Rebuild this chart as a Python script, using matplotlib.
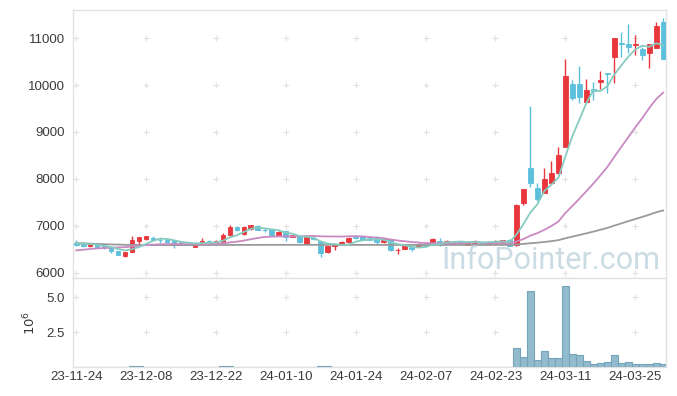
import matplotlib
matplotlib.use("Agg")
import matplotlib.pyplot as plt
import numpy as np
import pandas as pd

dates = ["23-11-24", "23-11-27", "23-11-28", "23-11-29", "23-11-30",
         "23-12-01", "23-12-04", "23-12-05", "23-12-06", "23-12-07", "23-12-08",
         "23-12-11", "23-12-12", "23-12-13", "23-12-14", "23-12-15",
         "23-12-18", "23-12-19", "23-12-20", "23-12-21", "23-12-22",
         "23-12-26", "23-12-27", "23-12-28",
         "24-01-02", "24-01-03", "24-01-04", "24-01-05",
         "24-01-08", "24-01-09", "24-01-10", "24-01-11", "24-01-12",
         "24-01-15", "24-01-16", "24-01-17", "24-01-18", "24-01-19",
         "24-01-22", "24-01-23", "24-01-24", "24-01-25", "24-01-26",
         "24-01-29", "24-01-30", "24-01-31", "24-02-01", "24-02-02",
         "24-02-05", "24-02-06", "24-02-07", "24-02-08",
         "24-02-13", "24-02-14", "24-02-15", "24-02-16",
         "24-02-19", "24-02-20", "24-02-21", "24-02-22", "24-02-23",
         "24-02-26", "24-02-27", "24-02-28", "24-02-29",
         "24-03-04", "24-03-05", "24-03-06", "24-03-07", "24-03-08",
         "24-03-11", "24-03-12", "24-03-13", "24-03-14", "24-03-15",
         "24-03-18", "24-03-19", "24-03-20", "24-03-21", "24-03-22",
         "24-03-25", "24-03-26", "24-03-27", "24-03-28", "24-03-29"]

opens = [6635, 6615, 6560, 6600, 6585, 6540, 6465, 6360, 6450, 6680,
         6710, 6745, 6705, 6700, 6690, 6645, 6620, 6555, 6605, 6675,
         6645, 6660, 6800, 6980, 6815, 6920, 7000, 6915, 6905, 6800,
         6885, 6760, 6785, 6610, 6745, 6675, 6435, 6570, 6590, 6645,
         6755, 6780, 6730, 6760, 6650, 6710, 6475, 6505, 6545, 6550,
         6620, 6630, 6665, 6615, 6640, 6660, 6595, 6630, 6660, 6615,
         6630, 6660, 6700, 6580, 7495, 8230, 7800, 7705, 7905, 8115,
         8685, 10020, 10020, 9645, 9905, 10070, 10260, 10590, 10900, 10870,
         10845, 10765, 10675, 10795, 11340]

closes = [6595, 6575, 6615, 6555, 6520, 6455, 6380, 6445, 6700, 6750,
          6785, 6700, 6690, 6660, 6610, 6620, 6610, 6625, 6675, 6625,
          6680, 6800, 6980, 6900, 6980, 7015, 6910, 6905, 6800, 6870,
          6765, 6800, 6645, 6750, 6720, 6410, 6560, 6605, 6660, 6745,
          6730, 6695, 6700, 6660, 6710, 6480, 6490, 6575, 6500, 6620,
          6560, 6715, 6655, 6680, 6650, 6615, 6650, 6675, 6630, 6660,
          6675, 6695, 6575, 7445, 7780, 7920, 7570, 7995, 8115, 8510,
          10190, 9730, 9750, 9890, 9880, 10105, 10240, 10995, 10865, 10815,
          10870, 10650, 10870, 11255, 10560]

highs = [6700, 6660, 6640, 6610, 6595, 6545, 6470, 6450, 6790, 6755,
         6790, 6785, 6745, 6710, 6695, 6660, 6640, 6640, 6745, 6690,
         6700, 6845, 7010, 6995, 6990, 7025, 7010, 6955, 6920, 6880,
         6895, 6810, 6800, 6760, 6770, 6680, 6575, 6620, 6670, 6750,
         6790, 6790, 6745, 6770, 6720, 6720, 6530, 6580, 6560, 6630,
         6630, 6730, 6740, 6690, 6670, 6670, 6665, 6690, 6670, 6680,
         6690, 6705, 6710, 7460, 7790, 9550, 7905, 8225, 8385, 8685,
         10545, 10105, 10400, 10120, 10070, 10305, 10265, 11000, 11135, 11310,
         11065, 10815, 10880, 11345, 11420]

lows = [6560, 6550, 6550, 6545, 6510, 6420, 6370, 6325, 6440, 6590,
        6705, 6695, 6625, 6650, 6530, 6600, 6590, 6540, 6600, 6615,
        6635, 6655, 6790, 6890, 6810, 6910, 6900, 6860, 6790, 6790,
        6675, 6750, 6630, 6600, 6700, 6340, 6420, 6480, 6580, 6640,
        6720, 6690, 6690, 6600, 6640, 6470, 6400, 6495, 6460, 6540,
        6550, 6620, 6560, 6600, 6620, 6600, 6585, 6620, 6620, 6600,
        6620, 6650, 6560, 6570, 7450, 7830, 7530, 7690, 7890, 8100,
        8680, 9680, 9610, 9640, 9690, 9925, 9835, 10035, 10590, 10685,
        10635, 10530, 10355, 10790, 10550]

volumes = [21000, 18000, 24000, 16000, 19000, 27000, 31000, 26000, 95000, 42000,
           28000, 20000, 15000, 17000, 22000, 14000, 13000, 19000, 25000, 16000,
           18000, 38000, 85000, 30000, 33000, 29000, 22000, 15000, 20000, 17000,
           24000, 14000, 21000, 19000, 16000, 90000, 36000, 20000, 18000, 23000,
           15000, 17000, 13000, 19000, 16000, 24000, 22000, 18000, 20000, 17000,
           15000, 21000, 18000, 14000, 12000, 16000, 13000, 15000, 12000, 14000,
           16000, 22000, 35000,
           1350000, 700000, 5460000, 480000, 1130000, 630000, 630000, 5820000,
           910000, 840000, 410000, 190000, 260000, 340000, 840000, 260000,
           340000, 190000, 190000, 190000, 260000, 190000]

# closes of the 19 sessions before the first shown day (estimated from the MA lines)
prior_closes = [6300, 6280, 6320, 6350, 6310, 6290, 6330, 6380, 6450, 6500,
                6520, 6560, 6550, 6590, 6620, 6640, 6610, 6650, 6630]

# long moving average line
ma_long = [6630, 6624, 6618, 6612, 6606, 6601, 6597, 6593, 6590, 6589,
           6588, 6588, 6587, 6587, 6587, 6587, 6587, 6587, 6588, 6588,
           6588, 6589, 6589, 6590, 6590, 6591, 6591, 6592, 6592, 6592,
           6592, 6592, 6592, 6592, 6592, 6591, 6591, 6591, 6591, 6591,
           6591, 6591, 6591, 6590, 6590, 6590, 6590, 6590, 6590, 6590,
           6590, 6590, 6590, 6590, 6590, 6590, 6590, 6590, 6590, 6590,
           6590, 6590, 6590, 6599, 6612, 6627, 6638, 6654, 6671, 6692,
           6732, 6767, 6802, 6838, 6874, 6913, 6953, 7002, 7049, 7096,
           7143, 7188, 7235, 7287, 7325]

tick_idx = [0, 10, 20, 30, 40, 50, 60, 70, 80]
price_ticks = [6000, 7000, 8000, 9000, 10000, 11000]
vol_ticks = [2.5e6, 5.0e6]
vol_tick_labels = ["2.5", "5.0"]

RED = "#e8363c"
BLUE = "#5cbfdc"
TEAL = "#86cbbf"
PINK = "#c98ac3"
GRAY = "#9a9a9a"
SPINE = "#e2e2e2"
TXT = "#3a3a3a"

plt.rcParams['font.family'] = ['Liberation Sans', 'DejaVu Sans']

W, H = 677, 396
fig = plt.figure(figsize=(W / 100, H / 100), dpi=100)
L, R = 73, 666
ax = fig.add_axes([L / W, 1 - 278 / H, (R - L) / W, (278 - 10) / H])
axv = fig.add_axes([L / W, 1 - 367 / H, (R - L) / W, (367 - 278) / H], sharex=ax)

o = np.array(opens, float)
c = np.array(closes, float)
h = np.array(highs, float)
lo = np.array(lows, float)
x = np.arange(len(dates))
up = c >= o
cols = np.where(up, RED, BLUE)

ax.vlines(x, lo, h, colors=cols, lw=1.0, zorder=2)
ax.bar(x, np.abs(c - o), bottom=np.minimum(o, c), width=0.68, color=cols,
       edgecolor=cols, linewidth=0.6, zorder=3)

s = pd.Series(prior_closes + closes, dtype=float)
n0 = len(prior_closes)
ma5 = s.rolling(5).mean().iloc[n0:].to_numpy()
ma20 = s.rolling(20).mean().iloc[n0:].to_numpy()

ax.plot(x, ma_long, color=GRAY, lw=1.3, zorder=4)
ax.plot(x, ma20, color=PINK, lw=1.3, zorder=4)
ax.plot(x, ma5, color=TEAL, lw=1.3, zorder=4)

# volume
axv.bar(x, volumes, width=1.0, color="#93bbce", edgecolor="#76a4ba", linewidth=0.8, zorder=3)

# grid crosses
for t in tick_idx:
    for p in price_ticks:
        ax.plot(t, p, marker='+', color='#e2e2e2', ms=4.5, mew=0.8, zorder=1)
    for v in vol_ticks:
        axv.plot(t, v, marker='+', color='#e2e2e2', ms=4.5, mew=0.8, zorder=1)

ax.set_xlim(-0.45, 84.4)
ax.set_ylim(5885, 11600)
axv.set_ylim(0, 6.4e6)

ax.set_yticks(price_ticks)
ax.set_yticklabels([str(p) for p in price_ticks])
axv.set_yticks(vol_ticks)
axv.set_yticklabels(vol_tick_labels)
axv.set_xticks(tick_idx)
axv.set_xticklabels([dates[i] for i in tick_idx])
ax.tick_params(axis='x', labelbottom=False, length=0)
ax.tick_params(axis='y', length=0, labelsize=9.5, labelcolor=TXT, pad=6)
axv.tick_params(axis='both', length=0, labelsize=9.5, labelcolor=TXT)
axv.tick_params(axis='y', pad=6)
axv.tick_params(axis='x', pad=3)
axv.set_ylabel(r"$10^6$", fontsize=9.5, color=TXT, labelpad=6)

for a in (ax, axv):
    for sp in a.spines.values():
        sp.set_color(SPINE)
        sp.set_linewidth(1.0)

ax.text(0.805, 0.035, "InfoPointer.com", transform=ax.transAxes, ha='center',
        va='baseline', fontsize=22, color='#b9d0dc', alpha=0.75,
        family=['Roboto', 'DejaVu Sans'], zorder=6)

fig.savefig("out.png", dpi=100)
